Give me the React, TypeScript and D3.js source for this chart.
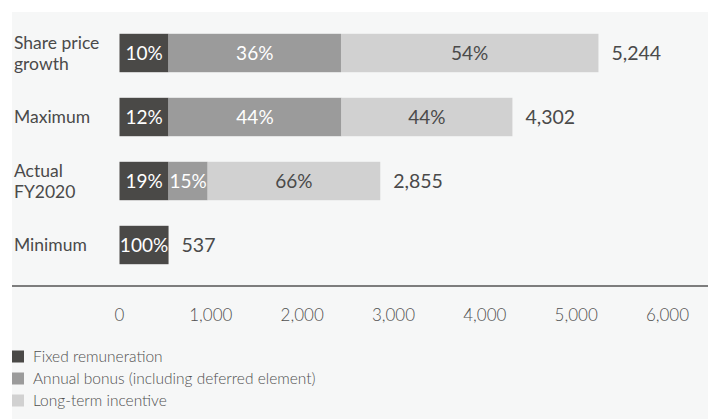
import React from "react";
import * as d3 from "d3";

const categories = ["Share price growth", "Maximum", "Actual FY2020", "Minimum"];
const categoryLines = [["Share price", "growth"], ["Maximum"], ["Actual", "FY2020"], ["Minimum"]];
const fixedValues = [537, 537, 537, 537];
const bonusValues = [1888, 1893, 428, 0];
const ltiValues = [2819, 1872, 1890, 0];
const seriesNames = ["Fixed remuneration", "Annual bonus (including deferred element)", "Long-term incentive"];
const xTicks = [0, 1000, 2000, 3000, 4000, 5000, 6000];

const colors = ["#4a4947", "#9b9b9b", "#d1d1d1"];
const textOn = ["#ffffff", "#ffffff", "#4a4a4a"];
const FONT = "Lato, 'Noto Sans', sans-serif";

export default function App() {
  const W = 708, H = 419;
  const x = d3.scaleLinear().domain([0, 6000]).range([119.5, 667.5]);
  const y = d3.scaleBand<string>().domain(categories).range([21, 277]).paddingInner(0.4).paddingOuter(0.2);
  const rows = categories.map((c, i) => ({ c, i, fixed: fixedValues[i], bonus: bonusValues[i], lti: ltiValues[i] }));
  const stack = d3.stack<any>().keys(["fixed", "bonus", "lti"])(rows);
  const fmt = d3.format(",");
  const totals = rows.map((r) => r.fixed + r.bonus + r.lti);

  return (
    <div style={{ position: "absolute", left: 0, top: 0 }}>
      <svg width={W} height={H} style={{ display: "block" }} fontFamily={FONT} fontWeight={400}>
        <rect x={0} y={0} width={W} height={H} fill="#ffffff" />
        <rect x={12} y={12} width={W - 12} height={H - 12} fill="#f6f7f7" />
        {stack.map((layer, k) => (
          <g key={k}>
            {layer.map((d, i) => {
              const v = d[1] - d[0];
              if (v <= 0) return null;
              const x0 = x(d[0]), x1 = x(d[1]);
              const yy = y(categories[i])!;
              const pct = Math.round((v / totals[i]) * 100) + "%";
              return (
                <g key={i}>
                  <rect x={x0} y={yy} width={x1 - x0} height={y.bandwidth()} fill={colors[k]} />
                  <text x={(x0 + x1) / 2} y={yy + y.bandwidth() / 2} dy="0.36em" textAnchor="middle"
                    fontSize={19} fill={textOn[k]}>{pct}</text>
                </g>
              );
            })}
          </g>
        ))}
        {rows.map((r, i) => (
          <text key={"t" + i} x={x(totals[i]) + 13} y={y(r.c)! + y.bandwidth() / 2} dy="0.36em"
            fontSize={19.5} fill="#4a4a4a">{fmt(totals[i])}</text>
        ))}
        {rows.map((r, i) => {
          const lines = categoryLines[i];
          const cy = y(r.c)! + y.bandwidth() / 2;
          const lh = 21;
          return (
            <text key={"c" + i} x={14} fontSize={17.5} fill="#4a4a4a">
              {lines.map((l, j) => (
                <tspan key={j} x={14} y={cy + (j - (lines.length - 1) / 2) * lh} dy="0.36em">{l}</tspan>
              ))}
            </text>
          );
        })}
        <line x1={12} x2={W} y1={286} y2={286} stroke="#555555" strokeWidth={1.5} />
        {xTicks.map((t) => (
          <text key={t} x={x(t)} y={315} dy="0.36em" textAnchor="middle" fontSize={17} fontWeight={300} fill="#505050">{fmt(t)}</text>
        ))}
        {seriesNames.map((s, k) => (
          <g key={s} transform={`translate(12, ${356.5 + k * 22})`}>
            <rect x={0} y={-6} width={12} height={12} fill={colors[k]} />
            <text x={21} y={0} dy="0.36em" fontSize={15.5} fontWeight={300} fill="#505050">{s}</text>
          </g>
        ))}
      </svg>
    </div>
  );
}
